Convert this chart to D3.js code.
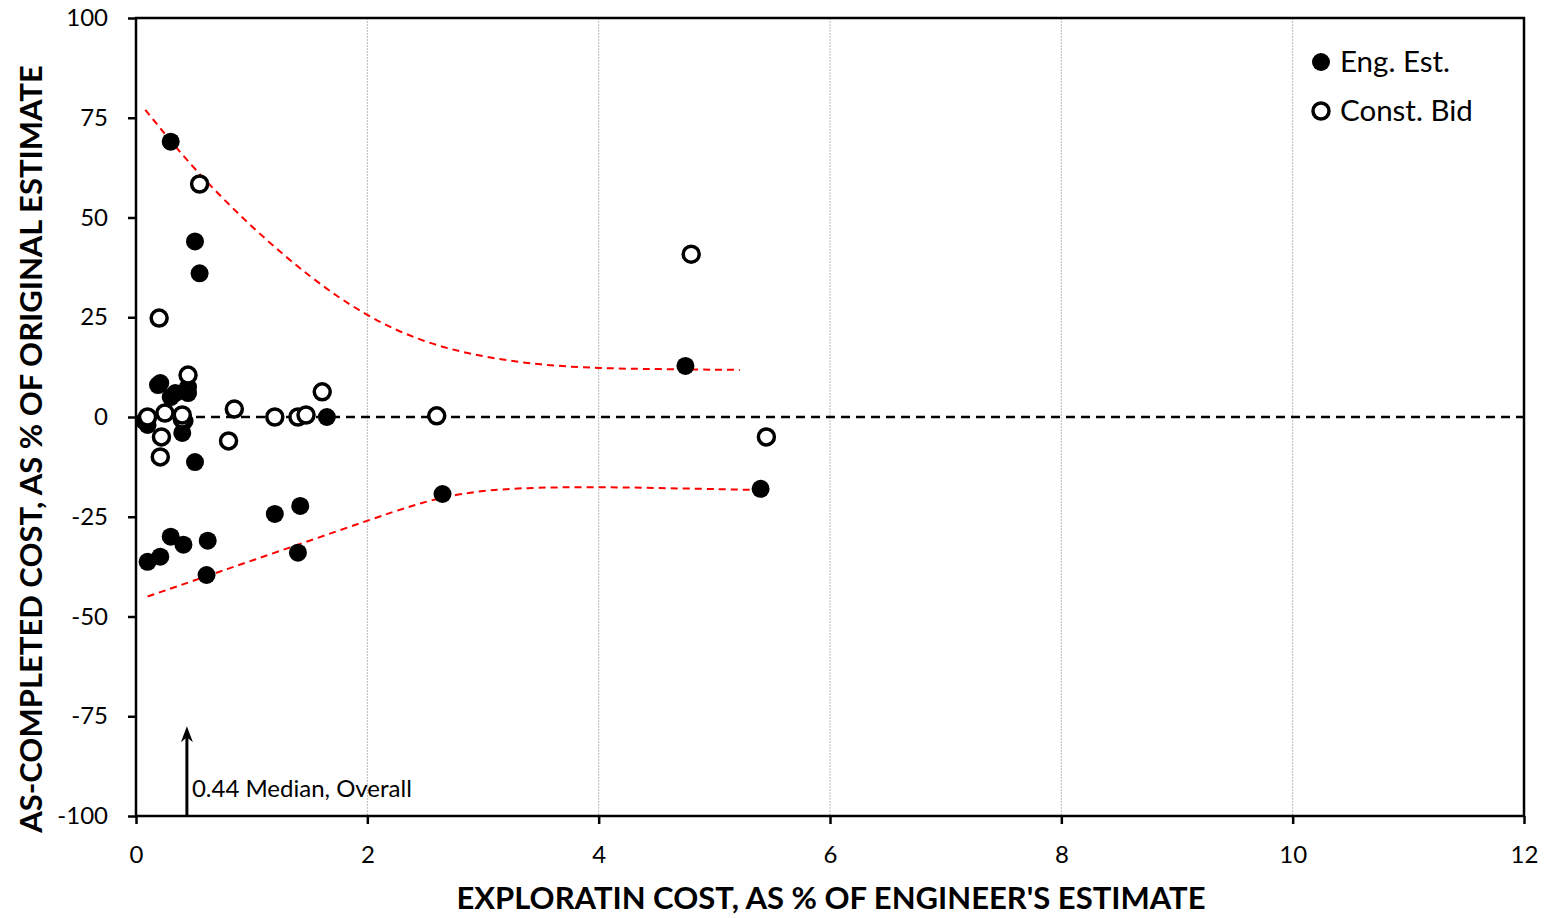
<!DOCTYPE html>
<html><head><meta charset="utf-8">
<script src="https://cdn.jsdelivr.net/npm/d3@7"></script>
<style>body{margin:0;background:#fff}svg{display:block}</style>
</head><body>
<svg id="c" width="1548" height="918"></svg>
<script>
const engEst = [[0.30,69],[0.51,44],[0.55,36],[0.21,8.5],[0.19,8],[0.30,5],[0.34,6],[0.45,7.5],[0.45,6],[0.10,-2],[0.07,-1],[0.40,-4],[0.42,-1],[0.51,-11.3],[1.65,0],[4.75,12.8],[5.40,-18],[2.65,-19.3],[1.20,-24.3],[1.42,-22.3],[1.40,-34],[0.30,-30],[0.41,-32],[0.62,-31],[0.61,-39.6],[0.10,-36.3],[0.21,-35]];
const constBid = [[0.55,58.4],[0.20,24.8],[0.45,10.5],[0.85,2],[0.80,-6],[0.22,-5],[0.21,-10],[0.10,0],[0.25,1],[0.40,-0.5],[0.40,0.5],[1.20,0],[1.40,0],[1.47,0.5],[1.61,6.3],[2.60,0.3],[4.80,40.8],[5.45,-5]];
const upperEnv = [[0.08,77],[0.5,62],[1,47.5],[1.5,35],[2,25],[2.5,18.5],[3,15],[3.5,13],[4,12.2],[4.5,12],[5.22,11.8]];
const lowerEnv = [[0.1,-45],[0.6,-40],[1,-36],[1.5,-31],[2,-26],[2.4,-22],[2.8,-19],[3.3,-17.7],[4,-17.5],[4.7,-17.9],[5.4,-18.3]];
const xTicks = [0,2,4,6,8,10,12];
const yTicks = [-100,-75,-50,-25,0,25,50,75,100];
const median = 0.44;
const medianLabel = "0.44 Median, Overall";
const legendLabels = ["Eng. Est.","Const. Bid"];
const xTitle = "EXPLORATIN COST, AS % OF ENGINEER'S ESTIMATE";
const yTitle = "AS-COMPLETED COST, AS % OF ORIGINAL ESTIMATE";

const svg = d3.select("#c");
const L=136,R=1524,T=18,B=816;
const font = "Lato, 'Open Sans', sans-serif";
const x = d3.scaleLinear().domain([0,12]).range([L,R]);
const y = d3.scaleLinear().domain([-100,100]).range([B,T]);
const fmt = d => String(d);

// gridlines
svg.append("g").selectAll("line").data(xTicks.filter(d=>d>0&&d<12)).join("line")
  .attr("x1",d=>x(d)).attr("x2",d=>x(d)).attr("y1",T).attr("y2",B)
  .attr("stroke","#bbb").attr("stroke-width",1).attr("stroke-dasharray","2,1");

// axes
const ax = svg.append("g").attr("transform",`translate(0,${B})`)
  .call(d3.axisBottom(x).tickValues(xTicks).tickFormat(fmt).tickSize(8).tickPadding(22));
const ay = svg.append("g").attr("transform",`translate(${L},0)`)
  .call(d3.axisLeft(y).tickValues(yTicks).tickFormat(fmt).tickSize(8).tickPadding(20));
[ax,ay].forEach(a=>{
  a.selectAll("path").remove();
  a.selectAll("line").attr("stroke","#000").attr("stroke-width",2.5);
  a.selectAll("text").attr("font-family",font).attr("font-size",24).attr("fill","#000");
});
// frame
svg.append("rect").attr("x",L).attr("y",T).attr("width",R-L).attr("height",B-T)
  .attr("fill","none").attr("stroke","#000").attr("stroke-width",2.5);

// zero line
svg.append("line").attr("x1",x(0)).attr("x2",x(12)).attr("y1",y(0)).attr("y2",y(0))
  .attr("stroke","#000").attr("stroke-width",2.5).attr("stroke-dasharray","9,6");

// envelopes
const line = d3.line().x(d=>x(d[0])).y(d=>y(d[1])).curve(d3.curveBasis);
[upperEnv,lowerEnv].forEach(e=>svg.append("path").attr("d",line(e)).attr("fill","none")
  .attr("stroke","#f00").attr("stroke-width",2).attr("stroke-dasharray","7,5"));

// points
svg.append("g").selectAll("circle").data(engEst).join("circle")
  .attr("cx",d=>x(d[0])).attr("cy",d=>y(d[1])).attr("r",9).attr("fill","#000");
svg.append("g").selectAll("circle").data(constBid).join("circle")
  .attr("cx",d=>x(d[0])).attr("cy",d=>y(d[1])).attr("r",8).attr("fill","#fff")
  .attr("stroke","#000").attr("stroke-width",3.5);

// median arrow
const tipY = y(-77.5);
svg.append("line").attr("x1",x(median)).attr("x2",x(median)).attr("y1",B).attr("y2",tipY+6)
  .attr("stroke","#000").attr("stroke-width",3);
svg.append("path").attr("d",`M${x(median)-6},${tipY+16} L${x(median)},${tipY} L${x(median)+6},${tipY+16} L${x(median)},${tipY+11} Z`).attr("fill","#000");
svg.append("text").attr("x",x(median)+5).attr("y",797).attr("font-family",font)
  .attr("font-size",24).text(medianLabel);

// legend
const lg = svg.append("g");
lg.append("circle").attr("cx",1321).attr("cy",62).attr("r",9).attr("fill","#000");
lg.append("circle").attr("cx",1321).attr("cy",111).attr("r",8).attr("fill","#fff").attr("stroke","#000").attr("stroke-width",3.5);
lg.selectAll("text").data(legendLabels).join("text").attr("x",1340).attr("y",(d,i)=>62+i*49)
  .attr("dy","0.35em").attr("font-family",font).attr("font-size",29.5).text(d=>d);

// titles
svg.append("text").attr("x",831).attr("y",909).attr("text-anchor","middle")
  .attr("font-family",font).attr("font-weight","bold").attr("font-size",31).text(xTitle);
svg.append("text").attr("transform",`translate(42,449) rotate(-90)`).attr("text-anchor","middle")
  .attr("font-family",font).attr("font-weight","bold").attr("font-size",31).text(yTitle);
</script>
</body></html>
